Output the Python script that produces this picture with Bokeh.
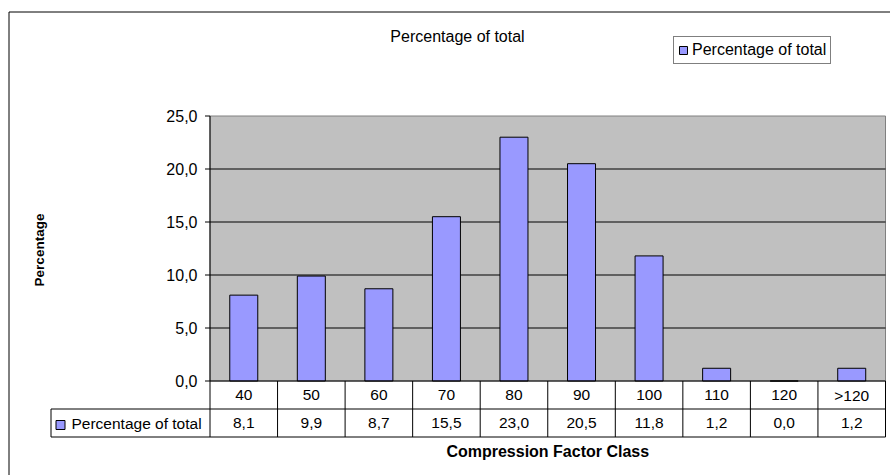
import math
from bokeh.plotting import figure
from bokeh.models import Range1d
from bokeh.core.properties import value
from bokeh.embed import file_html
from bokeh.resources import INLINE

# ---- data ----
categories = ["40", "50", "60", "70", "80", "90", "100", "110", "120", ">120"]
percentages = [8.1, 9.9, 8.7, 15.5, 23.0, 20.5, 11.8, 1.2, 0.0, 1.2]
y_ticks = [0, 5, 10, 15, 20, 25]
series_name = "Percentage of total"
chart_title = "Percentage of total"
x_title = "Compression Factor Class"
y_title = "Percentage"


def fmt(v):
    return f"{v:.1f}".replace(".", ",")


# ---- layout (page pixels) ----
W, H = 890, 475
OX, OY = 0, 0
PLOT_L, PLOT_T, PLOT_B = 209.5, 115.5, 380.5
COL_W = 67.55
Y_MAX = 25
PPU = (PLOT_B - PLOT_T) / Y_MAX
ROW1_B = 408.5
ROW2_B = 436.5
TABLE_L = 50.5
N = len(categories)


def X(px):
    return (px - PLOT_L) / COL_W


def Y(py):
    return (PLOT_B - py) / PPU


FONT = value("Liberation Sans")

p = figure(width=W, height=H, x_range=Range1d(X(OX), X(OX + W)),
           y_range=Range1d(Y(OY + H), Y(OY)), output_backend="svg",
           toolbar_location=None, x_axis_location=None, y_axis_location=None,
           min_border=0)
p.grid.visible = False
p.outline_line_color = None
p.background_fill_color = "white"
p.border_fill_color = "white"

# outer chart border (top and left visible)
p.segment(x0=[X(8.5), X(8.5)], y0=[Y(11.5), Y(11.5)], x1=[X(900), X(8.5)], y1=[Y(11.5), Y(490)],
          line_color="black", line_width=1)

# plot area
p.quad(left=[0], right=[N], bottom=[0], top=[Y_MAX], fill_color="#C0C0C0",
       line_color="#808080", line_width=1)
grid_vals = [t for t in y_ticks if 0 < t < Y_MAX]
p.segment(x0=[0] * len(grid_vals), x1=[N] * len(grid_vals), y0=grid_vals, y1=grid_vals,
          line_color="black", line_width=1)

# bars
xs = [i + 0.5 for i in range(N)]
bars = p.vbar(x=xs, top=percentages, bottom=0, width=28 / COL_W, fill_color="#9999FF",
              line_color="black", line_width=1, legend_label=series_name)

# y axis
p.segment(x0=[0], x1=[0], y0=[0], y1=[Y_MAX], line_color="black", line_width=1)
p.segment(x0=[X(PLOT_L - 5)] * len(y_ticks), x1=[0] * len(y_ticks), y0=y_ticks, y1=y_ticks,
          line_color="black", line_width=1)
p.text(x=[X(197)] * len(y_ticks), y=y_ticks, text=[fmt(t) for t in y_ticks],
       text_font=FONT, text_font_size=value("16px"), text_align="right",
       text_baseline="middle", text_color="black")
p.text(x=[X(39)], y=[Y(249.5)], text=[y_title], angle=math.pi / 2, text_font=FONT,
       text_font_size=value("13.5px"), text_font_style="bold", text_align="center",
       text_baseline="middle", text_color="black")

# data table
tl = X(TABLE_L)
p.segment(x0=[0, tl, tl], x1=[N, N, N], y0=[0, Y(ROW1_B), Y(ROW2_B)], y1=[0, Y(ROW1_B), Y(ROW2_B)],
          line_color="black", line_width=1)
p.segment(x0=list(range(N + 1)) + [tl], x1=list(range(N + 1)) + [tl],
          y0=[0] * (N + 1) + [Y(ROW1_B)], y1=[Y(ROW2_B)] * (N + 1) + [Y(ROW2_B)],
          line_color="black", line_width=1)
p.text(x=xs, y=[Y(394.5)] * N, text=categories, text_font=FONT, text_font_size=value("15.5px"),
       text_align="center", text_baseline="middle", text_color="black")
p.text(x=xs, y=[Y(422.5)] * N, text=[fmt(v) for v in percentages], text_font=FONT,
       text_font_size=value("15.5px"), text_align="center", text_baseline="middle",
       text_color="black")
p.rect(x=[X(60)], y=[Y(424.5)], width=9, height=9, width_units="screen",
       height_units="screen", fill_color="#9999FF", line_color="black", line_width=1)
p.text(x=[X(71)], y=[Y(422.5)], text=[series_name], text_font=FONT,
       text_font_size=value("15.5px"), text_align="left", text_baseline="middle",
       text_color="black")

# titles
p.text(x=[X(457)], y=[Y(36)], text=[chart_title], text_font=FONT,
       text_font_size=value("16px"), text_align="center", text_baseline="middle",
       text_color="black")
p.text(x=[(X(PLOT_L) + N) / 2], y=[Y(451)], text=[x_title], text_font=FONT,
       text_font_size=value("16px"), text_font_style="bold", text_align="center",
       text_baseline="middle", text_color="black")

# legend
lg = p.legend[0]
lg.location = (673 - OX, (OY + H) - 64)
lg.margin = 0
lg.padding = 4
lg.spacing = 0
lg.glyph_width = 10
lg.glyph_height = 10
lg.label_standoff = 4
lg.label_height = 18
lg.label_text_font = "Liberation Sans"
lg.label_text_font_size = "16px"
lg.label_text_color = "black"
lg.border_line_color = "black"
lg.border_line_width = 1
lg.background_fill_color = "white"
lg.background_fill_alpha = 1

open("out.html", "w").write(file_html(p, INLINE))
